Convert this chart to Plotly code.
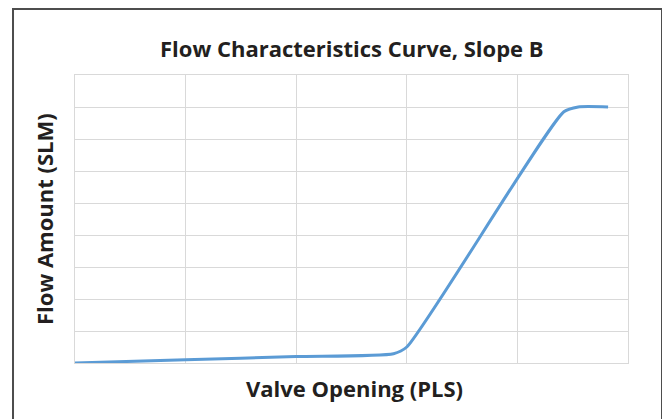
import plotly.graph_objects as go

# Data (x in grid units 0-5, y in grid units 0-9)
valve_opening = [0, 1, 2, 2.88, 3.0, 4.42, 4.55, 4.82]
flow_amount = [0, 0.1, 0.2, 0.29, 0.5, 7.85, 8.0, 8.0]

title_text = "Flow Characteristics Curve, Slope B"
x_title = "Valve Opening (PLS)"
y_title = "Flow Amount (SLM)"

fig = go.Figure()
fig.add_trace(go.Scatter(
    x=valve_opening, y=flow_amount, mode="lines",
    line=dict(color="#5B9BD5", width=3, shape="spline", smoothing=0.6),
    showlegend=False, hoverinfo="skip"))

grid = "#D9D9D9"
fig.update_xaxes(range=[0, 5], dtick=1, tick0=0, showticklabels=False, ticks="",
                 showgrid=True, gridcolor=grid, gridwidth=1, zeroline=False,
                 showline=True, linecolor=grid, linewidth=1, mirror=True)
fig.update_yaxes(range=[0, 9], dtick=1, tick0=0, showticklabels=False, ticks="",
                 showgrid=True, gridcolor=grid, gridwidth=1, zeroline=False,
                 showline=True, linecolor=grid, linewidth=1, mirror=True)

font_family = "Open Sans"
txt = "#231F20"
fig.update_layout(
    width=662, height=411,
    margin=dict(l=67, r=42, t=67, b=56),
    paper_bgcolor="white", plot_bgcolor="white",
    annotations=[
        dict(text="<b>%s</b>" % title_text, x=0.5, y=1.094, xref="paper", yref="paper",
             showarrow=False, xanchor="center", yanchor="middle",
             font=dict(family=font_family, size=22, color=txt)),
        dict(text="<b>%s</b>" % x_title, x=0.505, y=-0.087, xref="paper", yref="paper",
             showarrow=False, xanchor="center", yanchor="middle",
             font=dict(family=font_family, size=22, color=txt)),
        dict(text="<b>%s</b>" % y_title, x=-0.056, y=0.5, xref="paper", yref="paper",
             showarrow=False, xanchor="center", yanchor="middle", textangle=-90,
             font=dict(family=font_family, size=22, color=txt)),
    ],
    shapes=[dict(type="rect", xref="paper", yref="paper",
                 x0=-0.1121, x1=1.0615, y0=-0.25, y1=1.2292,
                 line=dict(color="#4D4D4D", width=2), layer="below")],
)

fig.write_html("out.html")
